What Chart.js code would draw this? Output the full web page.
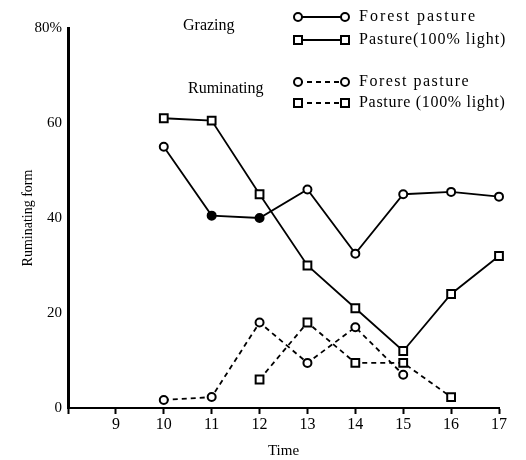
<!DOCTYPE html>
<html>
<head>
<meta charset="utf-8">
<script src="https://cdn.jsdelivr.net/npm/chart.js"></script>
<style>
  body { margin: 0; background: #fff; }
  canvas { display: block; }
</style>
</head>
<body>
<canvas id="chart" width="526" height="460"></canvas>
<script>
const hours = [10, 11, 12, 13, 14, 15, 16, 17];
const grazingForest = [55, 40.5, 40, 46, 32.5, 45, 45.5, 44.5];
const grazingPasture = [61, 60.5, 45, 30, 21, 12, 24, 32];
const rumForestHours = [10, 11, 12, 13, 14, 15];
const rumForest = [1.7, 2.3, 18, 9.5, 17, 7];
const rumPastureHours = [12, 13, 14, 15, 16];
const rumPasture = [6, 18, 9.5, 9.5, 2.3];
const yTicks = [0, 20, 40, 60, 80];

const serif = '"Liberation Serif", "DejaVu Serif", serif';

function pts(xs, ys) {
    return xs.map((x, i) => ({ x: x, y: ys[i] }));
}

// filled markers at 11 and 12 on the grazing forest line
const forestFill = hours.map(h => (h === 11 || h === 12) ? '#000' : '#fff');

function marker(ctx, x, y, shape) {
    ctx.beginPath();
    if (shape === 'circle') {
        ctx.arc(x, y, 4, 0, Math.PI * 2);
    } else {
        ctx.rect(x - 4, y - 4, 8, 8);
    }
    ctx.fillStyle = '#fff';
    ctx.fill();
    ctx.lineWidth = 2;
    ctx.setLineDash([]);
    ctx.stroke();
}

const legendPlugin = {
    id: 'scanLegend',
    afterDraw(chart) {
        const ctx = chart.ctx;
        ctx.save();
        ctx.strokeStyle = '#000';
        ctx.fillStyle = '#000';
        ctx.textBaseline = 'middle';
        ctx.font = '16px ' + serif;
        ctx.fillText('Grazing', 183, 26);
        ctx.fillText('Ruminating', 188, 89);

        const rows = [
            { y: 17, shape: 'circle', dash: [], text: 'Forest pasture', sp: '2px' },
            { y: 40, shape: 'rect', dash: [], text: 'Pasture(100% light)', sp: '1px' },
            { y: 82, shape: 'circle', dash: [5, 4], text: 'Forest pasture', sp: '1.5px' },
            { y: 103, shape: 'rect', dash: [5, 4], text: 'Pasture (100% light)', sp: '0.7px' }
        ];
        rows.forEach(r => {
            ctx.beginPath();
            ctx.setLineDash(r.dash);
            ctx.lineWidth = 1.8;
            ctx.moveTo(298, r.y);
            ctx.lineTo(345, r.y);
            ctx.stroke();
            marker(ctx, 298, r.y, r.shape);
            marker(ctx, 345, r.y, r.shape);
            ctx.fillStyle = '#000';
            ctx.letterSpacing = r.sp;
            ctx.fillText(r.text, 359, r.y);
            ctx.letterSpacing = '0px';
        });
        ctx.restore();
    }
};

const common = {
    borderColor: '#000',
    borderWidth: 1.8,
    pointBorderWidth: 2,
    pointBorderColor: '#000',
    pointBackgroundColor: '#fff',
    clip: false
};

const ctx = document.getElementById('chart').getContext('2d');
new Chart(ctx, {
    type: 'line',
    data: {
        datasets: [
            Object.assign({}, common, {
                label: 'Grazing - Forest pasture',
                data: pts(hours, grazingForest),
                pointStyle: 'circle',
                pointRadius: 4,
                pointBackgroundColor: forestFill
            }),
            Object.assign({}, common, {
                label: 'Grazing - Pasture (100% light)',
                data: pts(hours, grazingPasture),
                pointStyle: 'rect',
                pointRadius: 5.5
            }),
            Object.assign({}, common, {
                label: 'Ruminating - Forest pasture',
                data: pts(rumForestHours, rumForest),
                borderDash: [5, 4],
                pointStyle: 'circle',
                pointRadius: 4
            }),
            Object.assign({}, common, {
                label: 'Ruminating - Pasture (100% light)',
                data: pts(rumPastureHours, rumPasture),
                borderDash: [5, 4],
                pointStyle: 'rect',
                pointRadius: 5.5
            })
        ]
    },
    options: {
        responsive: false,
        animation: false,
        layout: { padding: { left: 20, top: 28, right: 27, bottom: 0 } },
        plugins: {
            legend: { display: false },
            tooltip: { enabled: false }
        },
        scales: {
            x: {
                type: 'linear',
                min: 8,
                max: 17,
                afterFit(scale) { scale.height = 52; },
                border: { color: '#000', width: 2 },
                grid: { drawOnChartArea: false, color: '#000', tickLength: 6, tickWidth: 2 },
                ticks: {
                    stepSize: 1,
                    padding: 1,
                    color: '#000',
                    font: { family: serif, size: 16 },
                    maxRotation: 0,
                    callback: v => v === 8 ? '' : String(v)
                },
                title: {
                    display: true,
                    text: 'Time',
                    color: '#000',
                    padding: 0,
                    font: { family: serif, size: 15 }
                }
            },
            y: {
                min: 0,
                max: 80,
                afterFit(scale) { scale.width = 48; },
                afterBuildTicks(scale) { scale.ticks = yTicks.map(v => ({ value: v })); },
                border: { color: '#000', width: 3 },
                grid: { drawOnChartArea: false, drawTicks: false },
                ticks: {
                    padding: 6,
                    color: '#000',
                    font: { family: serif, size: 15 },
                    callback: v => v === 80 ? '80%' : String(v)
                },
                title: {
                    display: true,
                    text: 'Ruminating form',
                    color: '#000',
                    padding: 0,
                    font: { family: serif, size: 14 }
                }
            }
        }
    },
    plugins: [legendPlugin]
});
</script>
</body>
</html>
